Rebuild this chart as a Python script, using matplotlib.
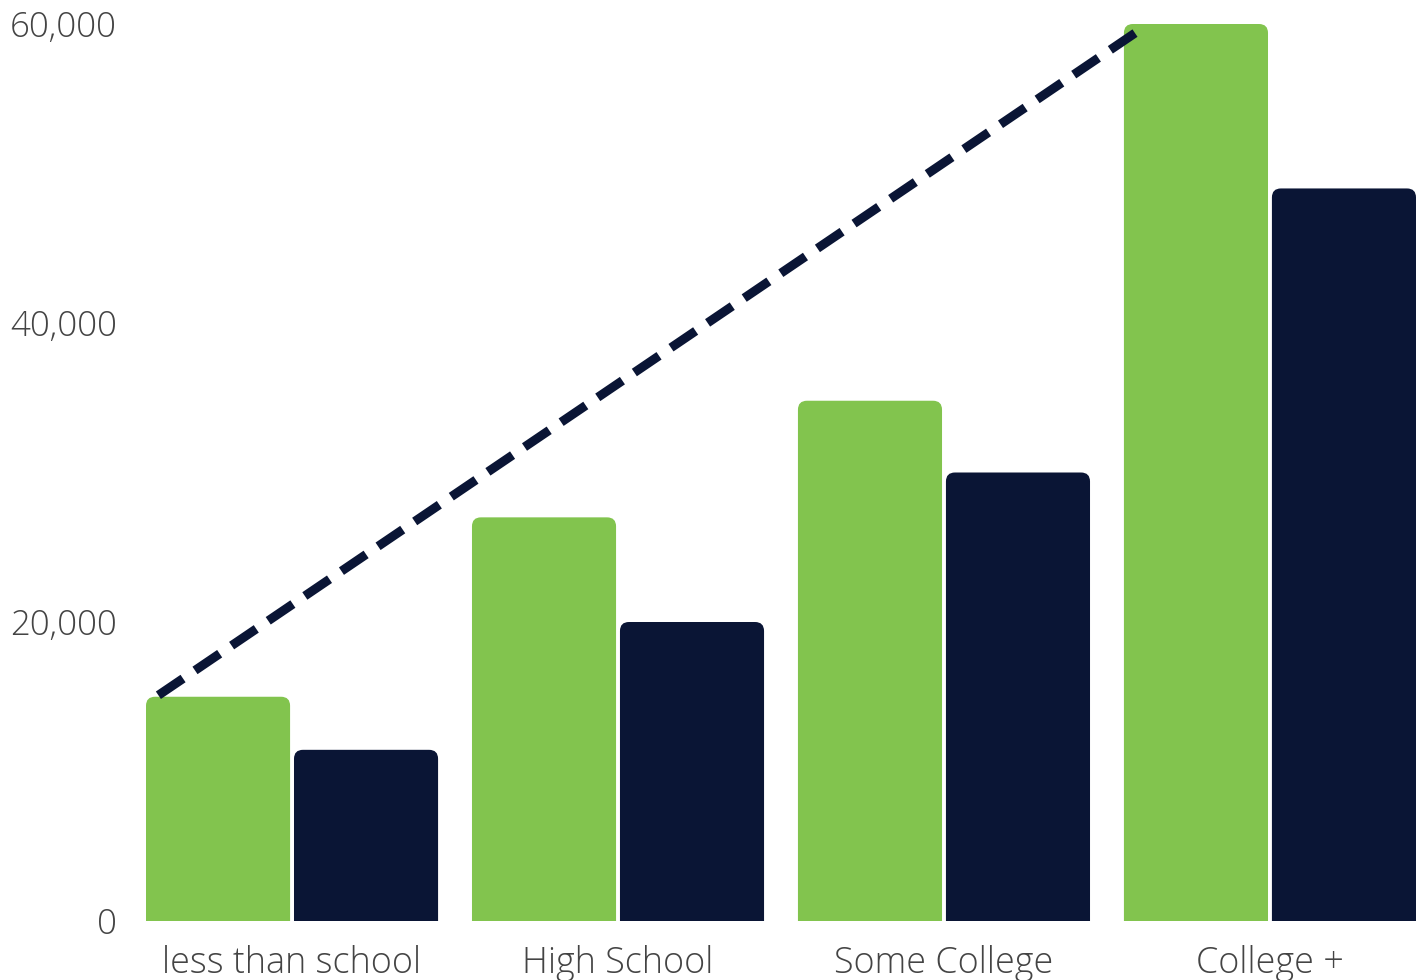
import matplotlib.pyplot as plt
import numpy as np
from matplotlib.path import Path
from matplotlib.patches import PathPatch

# datos
categorias = ['less than school', 'High School', 'Some College', 'College +']
serie_verde = [15000, 27000, 34800, 60000]
serie_azul = [11450, 20000, 30000, 49000]
tendencia_x = [-0.41, 2.60]
tendencia_y = [15100, 59600]

verde = '#82C44E'
azul = '#0A1535'
gris = '#444444'

fig = plt.figure(figsize=(14.26, 9.8), dpi=100)
ax = fig.add_axes([146 / 1426, 1 - 921 / 980, 1270 / 1426, 897 / 980])
ax.set_xlim(-0.448, 3.448)
ax.set_ylim(0, 60000)

ancho = 0.442
desp = 0.227

# radio de esquina en pixeles pasado a unidades de datos
radio_px = 9
rx = radio_px * (3.896 / 1270)
ry = radio_px * (60000 / 897)


def barra_redondeada(x0, w, h, color):
    x1 = x0 + w
    r_y = min(ry, h / 2)
    verts = [(x0, 0), (x0, h - r_y), (x0, h), (x0 + rx, h),
             (x1 - rx, h), (x1, h), (x1, h - r_y), (x1, 0), (x0, 0)]
    codes = [Path.MOVETO, Path.LINETO, Path.CURVE3, Path.CURVE3,
             Path.LINETO, Path.CURVE3, Path.CURVE3, Path.LINETO, Path.CLOSEPOLY]
    ax.add_patch(PathPatch(Path(verts, codes), facecolor=color,
                           edgecolor='none', clip_on=False))


x = np.arange(len(categorias))
for i in range(len(categorias)):
    barra_redondeada(x[i] - desp - ancho / 2, ancho, serie_verde[i], verde)
    barra_redondeada(x[i] + desp - ancho / 2, ancho, serie_azul[i], azul)

ax.plot(tendencia_x, tendencia_y, color=azul, linewidth=6.5,
        dashes=(3.3, 1.6), dash_capstyle='butt', clip_on=False)

ax.set_xticks(x)
ax.set_xticklabels(categorias)
ax.set_yticks([0, 20000, 40000, 60000])
ax.set_yticklabels(['0', '20,000', '40,000', '60,000'])
ax.tick_params(length=0, labelsize=25, labelcolor=gris)
ax.tick_params(axis='y', pad=21)
ax.tick_params(axis='x', pad=17, labelsize=25.8)
for t in ax.get_xticklabels() + ax.get_yticklabels():
    t.set_fontfamily('Open Sans')
    t.set_fontweight('light')
for s in ax.spines.values():
    s.set_visible(False)

fig.savefig('out.png', dpi=100)
